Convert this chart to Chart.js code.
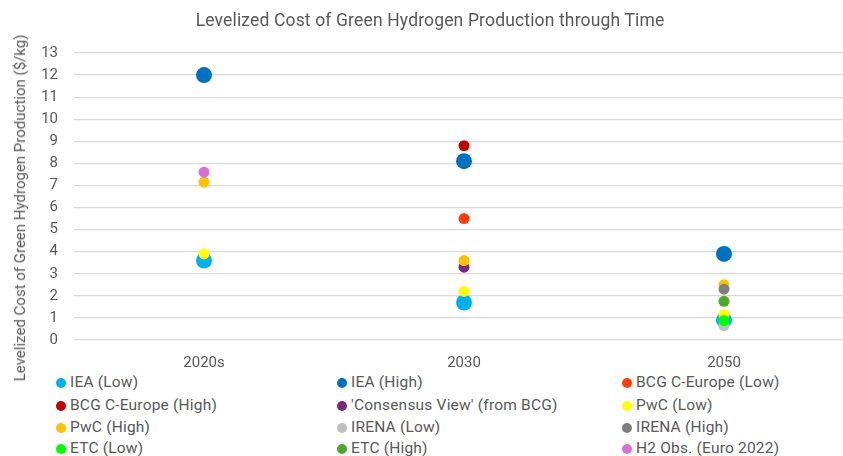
<!DOCTYPE html>
<html>
<head>
<meta charset="utf-8">
<script src="https://cdn.jsdelivr.net/npm/chart.js@4.4.1/dist/chart.umd.min.js"></script>
<style>
  html, body { margin: 0; padding: 0; background: #fff; overflow: hidden; width: 843px; height: 456px; }
  #wrap { position: absolute; left: 0; top: 0; width: 862px; height: 372px; }
  #title { position: absolute; left: 0; width: 860px; top: 10px; text-align: center; font: 17.5px Roboto, sans-serif; color: #595959; letter-spacing: 0.15px; }
  #ytitle { position: absolute; left: 20px; top: 208px; transform: translate(-50%, -50%) rotate(-90deg); white-space: nowrap; font: 15px Roboto, sans-serif; color: #595959; }
  .lg { position: absolute; font: 15.5px Roboto, sans-serif; color: #595959; white-space: nowrap; letter-spacing: 0.2px; }
  .dot { position: absolute; width: 10px; height: 10px; border-radius: 50%; }
</style>
</head>
<body>
<div id="wrap"><canvas id="c" width="862" height="372"></canvas></div>
<div id="title">Levelized Cost of Green Hydrogen Production through Time</div>
<div id="ytitle">Levelized Cost of Green Hydrogen Production ($/kg)</div>
<div id="legend"></div>
<script>
// ---- Data ----
const categories = ["2020s", "2030", "2050"];
const yTicks = [0,1,2,3,4,5,6,7,8,9,10,11,12,13];

const ieaLow      = [3.6, 1.7, 0.9];
const ieaHigh     = [12.0, 8.1, 3.9];
const bcgLow      = [null, 5.5, null];
const bcgHigh     = [null, 8.8, null];
const consensus   = [null, 3.3, null];
const pwcLow      = [3.9, 2.2, 1.15];
const pwcHigh     = [7.15, 3.6, 2.5];
const irenaLow    = [null, null, 0.65];
const irenaHigh   = [null, null, 2.3];
const etcLow      = [null, null, 0.88];
const etcHigh     = [null, null, 1.75];
const h2Obs       = [7.6, null, null];

const seriesNames = ["IEA (Low)", "IEA (High)", "BCG C-Europe (Low)", "BCG C-Europe (High)",
  "'Consensus View' (from BCG)", "PwC (Low)", "PwC (High)", "IRENA (Low)", "IRENA (High)",
  "ETC (Low)", "ETC (High)", "H2 Obs. (Euro 2022)"];
const seriesValues = [ieaLow, ieaHigh, bcgLow, bcgHigh, consensus, pwcLow, pwcHigh,
  irenaLow, irenaHigh, etcLow, etcHigh, h2Obs];

// ---- Styles ----
const seriesColors = ["#00B0F0", "#0070C0", "#FF3D0D", "#C00000", "#772A7C", "#FFFF00",
  "#FFC000", "#BFBFBF", "#7F7F7F", "#00FF00", "#4EA72E", "#DA70D6"];
const seriesRadius = [8, 8, 5.5, 5.5, 5.5, 5.5, 5.5, 5.5, 5.5, 5.5, 5.5, 5.5];

const datasets = seriesNames.map((name, i) => ({
  label: name,
  data: seriesValues[i],
  showLine: false,
  backgroundColor: seriesColors[i],
  borderColor: seriesColors[i],
  borderWidth: 0,
  pointRadius: seriesRadius[i],
  pointHoverRadius: seriesRadius[i],
  order: seriesNames.length - i
}));

const chart = new Chart(document.getElementById('c'), {
  type: 'line',
  data: { labels: categories, datasets },
  options: {
    responsive: false,
    animation: false,
    events: [],
    layout: { padding: { top: 53, left: 0, right: 0, bottom: 0 } },
    plugins: { legend: { display: false }, title: { display: false }, tooltip: { enabled: false } },
    scales: {
      x: {
        type: 'category',
        offset: true,
        grid: { display: false },
        border: { display: false },
        ticks: { color: '#595959', font: { family: 'Roboto', size: 15 }, padding: 6 },
        afterFit(s) { s.height = 372 - 340; }
      },
      y: {
        min: 0, max: 13,
        afterBuildTicks(s) { s.ticks = yTicks.map(v => ({ value: v })); },
        grid: { color: '#D9D9D9', lineWidth: 1.3, drawTicks: false },
        border: { display: false },
        ticks: { color: '#595959', font: { family: 'Roboto', size: 15 }, padding: 16 },
        afterFit(s) { s.width = 74; }
      }
    }
  }
});

// ---- HTML legend (3 columns) ----
const lg = document.getElementById('legend');
const colX = [56, 337, 622];
const rowY = [383, 406, 428, 449];
seriesNames.forEach((name, i) => {
  const col = i % 3, row = Math.floor(i / 3);
  const d = document.createElement('div');
  d.className = 'dot';
  d.style.left = colX[col] + 'px';
  d.style.top = (rowY[row] - 5) + 'px';
  d.style.background = seriesColors[i];
  lg.appendChild(d);
  const t = document.createElement('div');
  t.className = 'lg';
  t.textContent = name;
  t.style.left = (colX[col] + 14) + 'px';
  t.style.top = (rowY[row] - 10) + 'px';
  lg.appendChild(t);
});
</script>
</body>
</html>
